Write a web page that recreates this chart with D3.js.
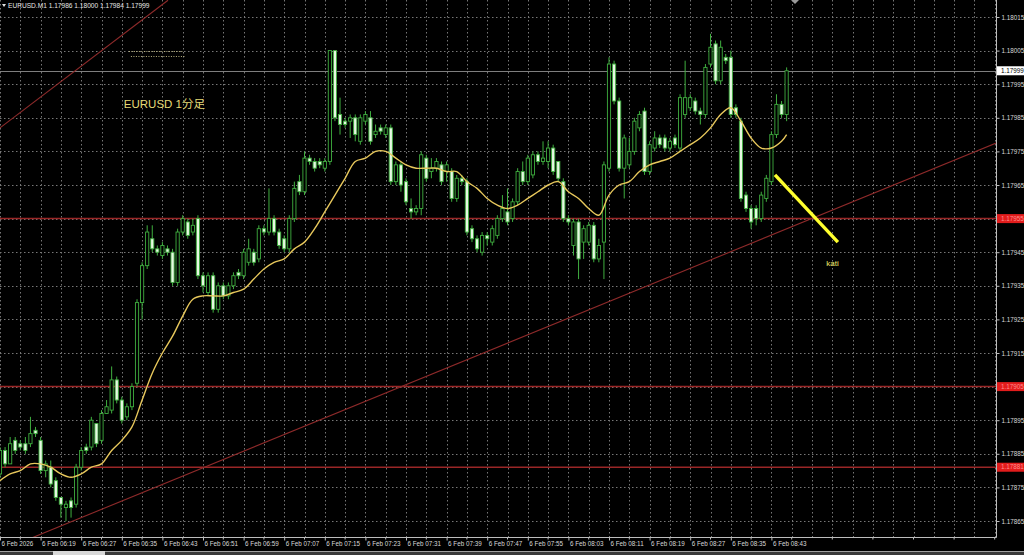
<!DOCTYPE html>
<html><head><meta charset="utf-8">
<script src="https://cdn.jsdelivr.net/npm/d3@7"></script>
<style>html,body{margin:0;padding:0;background:#000;overflow:hidden}</style>
</head><body><svg id="c" width="1024" height="555"></svg>
<script>
// ---------------- data ----------------
const symbol = "EURUSD.M1";
const xTickLabels = ["6 Feb 2026","6 Feb 06:19","6 Feb 06:27","6 Feb 06:35","6 Feb 06:43","6 Feb 06:51","6 Feb 06:59","6 Feb 07:07","6 Feb 07:15","6 Feb 07:23","6 Feb 07:31","6 Feb 07:39","6 Feb 07:47","6 Feb 07:55","6 Feb 08:03","6 Feb 08:11","6 Feb 08:19","6 Feb 08:27","6 Feb 08:35","6 Feb 08:43"];
const yTickLabels = [1.18015,1.18005,1.17995,1.17985,1.17975,1.17965,1.17955,1.17945,1.17935,1.17925,1.17915,1.17905,1.17895,1.17885,1.17875,1.17865];
const levelPrices = [1.17955,1.17905,1.17881];
const bidPrice = 1.17999;

const opens = [1.17879,1.17886,1.17882,1.17889,1.17888,1.17888,1.17888,1.17892,1.17889,1.17880,
1.17881,1.17877,1.17872,1.17869,1.17871,1.17870,1.17881,1.17887,1.17887,1.17894,
1.17889,1.17897,1.17898,1.17907,1.17901,1.17896,1.17899,1.17906,1.17930,1.17941,
1.17949,1.17946,1.17944,1.17946,1.17945,1.17936,1.17951,1.17954,1.17951,1.17955,
1.17938,1.17933,1.17938,1.17928,1.17935,1.17932,1.17935,1.17939,1.17938,1.17942,
1.17945,1.17943,1.17952,1.17951,1.17955,1.17951,1.17949,1.17946,1.17955,1.17966,
1.17963,1.17973,1.17972,1.17972,1.17970,1.17972,1.18005,1.17986,1.17984,1.17984,
1.17985,1.17978,1.17984,1.17985,1.17980,1.17982,1.17980,1.17982,1.17966,1.17971,
1.17966,1.17958,1.17957,1.17958,1.17973,1.17969,1.17970,1.17971,1.17969,1.17969,
1.17961,1.17967,1.17966,1.17952,1.17949,1.17945,1.17950,1.17948,1.17950,1.17955,
1.17957,1.17955,1.17960,1.17969,1.17966,1.17968,1.17974,1.17972,1.17972,1.17976,
1.17972,1.17966,1.17955,1.17947,1.17954,1.17948,1.17948,1.17953,1.17943,1.17948,
1.17970,1.18001,1.17990,1.17970,1.17971,1.17975,1.17982,1.17987,1.17969,1.17976,
1.17979,1.17979,1.17976,1.17979,1.17976,1.17986,1.17988,1.17990,1.17987,1.17986,
1.18001,1.18007,1.17996,1.18003,1.18003,1.17988,1.17984,1.17962,1.17958,1.17958,
1.17955,1.17961,1.17966,1.17980,1.17989,1.17986];
const highs = [1.17887,1.17887,1.17890,1.17890,1.17889,1.17890,1.17896,1.17893,1.17890,1.17883,
1.17883,1.17878,1.17872,1.17871,1.17872,1.17882,1.17887,1.17888,1.17896,1.17894,
1.17898,1.17901,1.17911,1.17908,1.17902,1.17900,1.17906,1.17931,1.17942,1.17953,
1.17953,1.17947,1.17948,1.17947,1.17946,1.17952,1.17956,1.17955,1.17955,1.17956,
1.17939,1.17939,1.17939,1.17936,1.17936,1.17936,1.17939,1.17940,1.17946,1.17949,
1.17946,1.17953,1.17953,1.17964,1.17956,1.17952,1.17950,1.17956,1.17966,1.17968,
1.17975,1.17974,1.17973,1.17973,1.17973,1.18005,1.18005,1.17991,1.17985,1.17986,
1.17986,1.17986,1.17987,1.17987,1.17983,1.17983,1.17983,1.17983,1.17972,1.17972,
1.17967,1.17961,1.17959,1.17975,1.17974,1.17973,1.17973,1.17972,1.17972,1.17970,
1.17968,1.17968,1.17967,1.17953,1.17950,1.17951,1.17951,1.17953,1.17956,1.17962,
1.17964,1.17961,1.17970,1.17972,1.17974,1.17975,1.17975,1.17978,1.17978,1.17977,
1.17972,1.17967,1.17956,1.17955,1.17955,1.17953,1.17954,1.17954,1.17949,1.17972,
1.18003,1.18002,1.17991,1.17980,1.17979,1.17985,1.17987,1.17988,1.17978,1.17981,
1.17980,1.17980,1.17979,1.17980,1.17992,1.18002,1.17992,1.17991,1.17988,1.18001,
1.18010,1.18008,1.18008,1.18004,1.18005,1.17989,1.17985,1.17963,1.17959,1.17959,
1.17963,1.17968,1.17981,1.17992,1.17990,1.18000];
const lows = [1.17878,1.17881,1.17882,1.17885,1.17886,1.17885,1.17887,1.17890,1.17879,1.17878,
1.17875,1.17871,1.17866,1.17865,1.17866,1.17869,1.17880,1.17885,1.17886,1.17887,
1.17888,1.17897,1.17897,1.17900,1.17894,1.17895,1.17898,1.17905,1.17925,1.17940,
1.17945,1.17944,1.17943,1.17944,1.17935,1.17935,1.17950,1.17949,1.17950,1.17937,
1.17933,1.17932,1.17927,1.17927,1.17931,1.17931,1.17934,1.17937,1.17937,1.17941,
1.17941,1.17942,1.17950,1.17950,1.17950,1.17946,1.17945,1.17945,1.17954,1.17962,
1.17962,1.17971,1.17969,1.17970,1.17969,1.17971,1.17984,1.17980,1.17982,1.17979,
1.17978,1.17977,1.17983,1.17977,1.17979,1.17980,1.17979,1.17965,1.17965,1.17963,
1.17959,1.17955,1.17956,1.17956,1.17966,1.17967,1.17969,1.17965,1.17966,1.17960,
1.17960,1.17965,1.17950,1.17948,1.17945,1.17944,1.17947,1.17947,1.17949,1.17954,
1.17953,1.17954,1.17959,1.17965,1.17965,1.17967,1.17971,1.17971,1.17970,1.17968,
1.17966,1.17954,1.17953,1.17944,1.17937,1.17943,1.17947,1.17942,1.17942,1.17937,
1.17969,1.17989,1.17969,1.17961,1.17970,1.17974,1.17981,1.17968,1.17968,1.17975,
1.17976,1.17975,1.17975,1.17976,1.17975,1.17985,1.17987,1.17986,1.17983,1.17985,
1.18000,1.17995,1.17995,1.18001,1.17985,1.17985,1.17960,1.17957,1.17952,1.17953,
1.17954,1.17960,1.17965,1.17979,1.17985,1.17984];
const closes = [1.17886,1.17882,1.17888,1.17886,1.17887,1.17886,1.17891,1.17891,1.17880,1.17882,
1.17876,1.17872,1.17870,1.17870,1.17869,1.17881,1.17886,1.17886,1.17895,1.17888,
1.17897,1.17899,1.17907,1.17901,1.17895,1.17899,1.17905,1.17930,1.17941,1.17951,
1.17946,1.17945,1.17947,1.17945,1.17936,1.17951,1.17955,1.17950,1.17953,1.17938,
1.17935,1.17938,1.17928,1.17935,1.17932,1.17935,1.17938,1.17938,1.17945,1.17946,
1.17942,1.17952,1.17951,1.17955,1.17951,1.17947,1.17946,1.17955,1.17964,1.17963,
1.17973,1.17972,1.17970,1.17971,1.17972,1.18005,1.17985,1.17983,1.17983,1.17985,
1.17980,1.17985,1.17986,1.17978,1.17981,1.17981,1.17982,1.17966,1.17971,1.17965,
1.17960,1.17957,1.17958,1.17974,1.17967,1.17970,1.17972,1.17966,1.17971,1.17961,
1.17967,1.17966,1.17951,1.17949,1.17946,1.17950,1.17949,1.17952,1.17955,1.17958,
1.17954,1.17960,1.17969,1.17966,1.17973,1.17974,1.17972,1.17973,1.17976,1.17969,
1.17967,1.17955,1.17954,1.17954,1.17943,1.17952,1.17953,1.17943,1.17947,1.17971,
1.18001,1.17990,1.17970,1.17979,1.17975,1.17984,1.17986,1.17969,1.17977,1.17979,
1.17977,1.17976,1.17978,1.17977,1.17991,1.17991,1.17991,1.17987,1.17986,1.18000,
1.18006,1.17996,1.18006,1.18002,1.17986,1.17986,1.17961,1.17958,1.17954,1.17955,
1.17962,1.17967,1.17980,1.17989,1.17986,1.17999];

const maBars = [0,2,4,6,8,10,12,14,16,18,20,22,24,26,28,30,32,34,36,38,40,42,44,46,48,50,52,54,56,58,
60,62,64,66,68,70,72,74,76,78,80,82,84,86,88,90,92,94,96,98,100,102,104,106,108,110,112,114,116,118,
120,122,124,126,128,130,132,134,136,138,140,142,144,146,148,150,152,154,155];
const maValues = [1.17877,1.17879,1.17880,1.17882,1.17882,1.17881,1.17879,1.17878,1.17879,1.17881,
1.17882,1.17886,1.17889,1.17893,1.17901,1.17909,1.17915,1.17920,1.17926,1.17931,
1.17932,1.17932,1.17932,1.17933,1.17934,1.17937,1.17940,1.17942,1.17943,1.17946,
1.17948,1.17952,1.17957,1.17962,1.17967,1.17972,1.17973,1.17975,1.17975,1.17973,
1.17971,1.17970,1.17970,1.17970,1.17969,1.17969,1.17966,1.17964,1.17961,1.17959,
1.17958,1.17959,1.17961,1.17963,1.17965,1.17966,1.17963,1.17961,1.17958,1.17956,
1.17962,1.17965,1.17966,1.17969,1.17971,1.17972,1.17973,1.17975,1.17977,1.17979,
1.17982,1.17986,1.17988,1.17984,1.17979,1.17976,1.17976,1.17978,1.17980];

// trendlines / annotations anchored in (bar, price)
const trendUpper = [[0,1.17982],[33.1,1.18020]];
const trendLower = [[6.3,1.17860],[196.3,1.179775]];
const katiLine = [[152.7,1.17968],[165.1,1.17948]];
const katiText = {bar:162.8, price:1.17941, text:"kati"};
const titleText = {bar:24.4, price:1.17988, text:"EURUSD 1分足"};

// ---------------- drawing ----------------
const svg = d3.select("#c");
const plotR = 996, plotB = 537;
const x = d3.scaleLinear().domain([0, 8]).range([0, 40.6]);
const y = d3.scaleLinear().domain([1.17865, 1.18015]).range([521, 17]);
const font = "'Liberation Sans', Arial, 'Noto Sans CJK JP', sans-serif";

svg.append("rect").attr("width",1024).attr("height",555).attr("fill","#000");
svg.append("defs").append("clipPath").attr("id","clip")
  .append("rect").attr("x",0).attr("y",0).attr("width",plotR).attr("height",plotB);
const plot = svg.append("g").attr("clip-path","url(#clip)");

// grid
const gridBars = d3.range(0, x.invert(plotR), 4);
plot.append("g").selectAll("line").data(gridBars).join("line")
  .attr("x1",d=>Math.round(x(d))+0.5).attr("x2",d=>Math.round(x(d))+0.5)
  .attr("y1",0).attr("y2",plotB)
  .attr("stroke","#777").attr("stroke-width",1).attr("stroke-dasharray","1.5,2.5");
plot.append("g").selectAll("line").data(yTickLabels).join("line")
  .attr("x1",0).attr("x2",plotR)
  .attr("y1",d=>Math.round(y(d))+0.5).attr("y2",d=>Math.round(y(d))+0.5)
  .attr("stroke","#777").attr("stroke-width",1).attr("stroke-dasharray","1.5,2.5");

// bid line
plot.append("line").attr("x1",0).attr("x2",plotR)
  .attr("y1",Math.round(y(bidPrice))+0.5).attr("y2",Math.round(y(bidPrice))+0.5)
  .attr("stroke","#7e7e7e").attr("stroke-width",1.2);

// horizontal levels
plot.append("g").selectAll("line").data(levelPrices).join("line")
  .attr("x1",0).attr("x2",plotR)
  .attr("y1",d=>y(d)).attr("y2",d=>y(d))
  .attr("stroke","#9a2626").attr("stroke-width",1.5);

// trendlines
const lineGen = d3.line().x(d=>x(d[0])).y(d=>y(d[1]));
[trendUpper, trendLower].forEach(t=>{
  plot.append("path").attr("d",lineGen(t)).attr("fill","none")
    .attr("stroke","#8e2a2a").attr("stroke-width",1.1);
});

// candles
const bars = d3.range(opens.length).map(i=>({i,o:opens[i],h:highs[i],l:lows[i],c:closes[i]}));
const green = "#3fae3f";
const cg = plot.append("g");
cg.selectAll("line.wick").data(bars).join("line").attr("class","wick")
  .attr("x1",d=>x(d.i)).attr("x2",d=>x(d.i))
  .attr("y1",d=>y(d.h)).attr("y2",d=>y(d.l))
  .attr("stroke",green).attr("stroke-width",1);
cg.selectAll("rect.body").data(bars).join("rect").attr("class","body")
  .attr("x",d=>x(d.i)-1.6).attr("width",3.2)
  .attr("y",d=>y(Math.max(d.o,d.c)))
  .attr("height",d=>Math.max(0.8, Math.abs(y(d.o)-y(d.c))))
  .attr("fill",d=>d.c>d.o ? "#000" : (d.c<d.o ? "#e6f8e2" : green))
  .attr("stroke",green).attr("stroke-width",0.9);

// moving average
const maPts = maBars.map((b,k)=>[b, maValues[k]]);
plot.append("path")
  .attr("d", d3.line().x(d=>x(d[0])).y(d=>y(d[1])).curve(d3.curveCatmullRom)(maPts))
  .attr("fill","none").attr("stroke","#e8c85c").attr("stroke-width",1.4);

// kati line
plot.append("path").attr("d",lineGen(katiLine)).attr("fill","none")
  .attr("stroke","#ffff2e").attr("stroke-width",3.4).attr("stroke-linecap","butt");
plot.append("text").attr("x",x(katiText.bar)).attr("y",y(katiText.price))
  .attr("fill","#f2e86a").attr("font-size",8).attr("font-family",font).text(katiText.text);

// title annotation
plot.append("text").attr("x",x(titleText.bar)).attr("y",y(titleText.price))
  .attr("fill","#e6dc78").attr("font-size",11.5).attr("font-family",font).text(titleText.text);
// faint hidden objects (tiny dotted strokes)
plot.append("line").attr("x1",x(25.4)).attr("x2",x(36)).attr("y1",51.5).attr("y2",51.5)
  .attr("stroke","#c9c28a").attr("stroke-width",0.9).attr("stroke-dasharray","1,1.5");
plot.append("line").attr("x1",x(25.8)).attr("x2",x(36.4)).attr("y1",56.5).attr("y2",56.5)
  .attr("stroke","#c9c28a").attr("stroke-width",0.9).attr("stroke-dasharray","1,1.5");

// header
const last = bars[bars.length-1];
const f5 = d3.format(".5f");
svg.append("path").attr("d","M2,4 L6,4 L4,7 Z").attr("fill","#e0e0e0");
svg.append("text").attr("x",8).attr("y",8).attr("fill","#e6e6e6").attr("font-size",6.6)
  .attr("font-family",font)
  .text(`${symbol}  ${f5(last.o)} ${f5(last.h)} ${f5(last.l)} ${f5(last.c)}`);
// chart shift marker
svg.append("path").attr("d","M791,0 L799,0 L795,4 Z").attr("fill","#9a9a9a");

// frame
svg.append("line").attr("x1",plotR+0.5).attr("x2",plotR+0.5).attr("y1",0).attr("y2",plotB+0.5)
  .attr("stroke","#bdbdbd");
svg.append("line").attr("x1",0).attr("x2",plotR+0.5).attr("y1",plotB+0.5).attr("y2",plotB+0.5)
  .attr("stroke","#bdbdbd");

// y axis
const yAxis = d3.axisRight(y).tickValues(yTickLabels).tickSize(3).tickPadding(2).tickFormat(f5);
const gy = svg.append("g").attr("transform",`translate(${plotR+0.5},0)`).call(yAxis);
gy.select(".domain").remove();
gy.selectAll(".tick line").attr("stroke","#bdbdbd");
gy.selectAll(".tick text").attr("fill","#d8d8d8").attr("font-size",6.3).attr("font-family",font);

// level boxes
const boxes = svg.append("g");
levelPrices.forEach(p=>{
  boxes.append("rect").attr("x",plotR+1).attr("y",y(p)-4.5).attr("width",1024-plotR).attr("height",9)
    .attr("fill","#e21c1c");
  boxes.append("text").attr("x",plotR+5).attr("y",y(p)).attr("dy","0.34em")
    .attr("fill","#ff8d8d").attr("font-size",6.3).attr("font-family",font).text(f5(p));
});
boxes.append("rect").attr("x",plotR+1).attr("y",y(bidPrice)-4.5).attr("width",1024-plotR).attr("height",9)
  .attr("fill","#ffffff");
boxes.append("text").attr("x",plotR+5).attr("y",y(bidPrice)).attr("dy","0.34em")
  .attr("fill","#000").attr("font-size",6.3).attr("font-family",font).text(f5(bidPrice));

// x axis
const xAxis = d3.axisBottom(x).tickValues(d3.range(0, 8*xTickLabels.length, 8))
  .tickSize(3).tickPadding(1).tickFormat((d,i)=>xTickLabels[i]);
const gx = svg.append("g").attr("transform",`translate(0,${plotB+0.5})`).call(xAxis);
gx.select(".domain").remove();
gx.selectAll(".tick line").attr("stroke","#bdbdbd");
gx.selectAll(".tick text").attr("fill","#d8d8d8").attr("font-size",6.3).attr("font-family",font)
  .attr("text-anchor","start").attr("x",1);
// minor x ticks
svg.append("g").selectAll("line").data(d3.range(4, x.invert(plotR), 8)).join("line")
  .attr("x1",d=>x(d)).attr("x2",d=>x(d)).attr("y1",plotB+0.5).attr("y2",plotB+2.5)
  .attr("stroke","#bdbdbd");

// bottom tab strip
svg.append("rect").attr("x",0).attr("y",551).attr("width",1024).attr("height",4).attr("fill","#3a3a3a");
svg.append("line").attr("x1",0).attr("x2",1024).attr("y1",551.5).attr("y2",551.5).attr("stroke","#a0a0a0");
svg.append("rect").attr("x",53).attr("y",551).attr("width",52).attr("height",4).attr("fill","#d8d8d8");
</script></body></html>
